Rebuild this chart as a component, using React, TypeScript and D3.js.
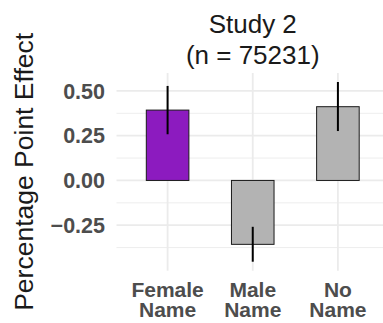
import React from "react";
import * as d3 from "d3";

const categories = ["Female Name", "Male Name", "No Name"];
const means = [0.393, -0.357, 0.412];
const lowers = [0.258, -0.454, 0.276];
const uppers = [0.528, -0.259, 0.55];
const fills = ["#8c1bbf", "#b3b3b3", "#b3b3b3"];
const majorTicks = [-0.25, 0, 0.25, 0.5];
const minorTicks = [-0.375, -0.125, 0.125, 0.375];
const titleLines = ["Study 2", "(n = 75231)"];
const yTitle = "Percentage Point Effect";

const W = 383;
const H = 323;
const panel = { left: 116.5, right: 389, top: 73, bottom: 270.7 };

export default function App() {
  const lo = d3.min(lowers)!;
  const hi = d3.max(uppers)!;
  const pad = (hi - lo) * 0.05;
  const y = d3.scaleLinear().domain([lo - pad, hi + pad]).range([panel.bottom, panel.top]);
  const x = d3.scalePoint<string>().domain(categories).range([panel.left, panel.right]).padding(0.6);
  const bw = x.step() * 0.5;
  const fmt = d3.format(".2f");
  const font = "'Liberation Sans', Arial, sans-serif";
  const cx = (panel.left + panel.right) / 2;

  return (
    <svg width={W} height={H} style={{ position: "absolute", left: 0, top: 0, background: "#fff" }}>
      <g>
        {minorTicks.map((t) => (
          <line key={"mn" + t} x1={panel.left} x2={panel.right} y1={y(t)} y2={y(t)} stroke="#ebebeb" strokeWidth={0.9} />
        ))}
        {majorTicks.map((t) => (
          <line key={"mj" + t} x1={panel.left} x2={panel.right} y1={y(t)} y2={y(t)} stroke="#ebebeb" strokeWidth={1.8} />
        ))}
        {categories.map((c) => (
          <line key={"v" + c} x1={x(c)!} x2={x(c)!} y1={panel.top} y2={panel.bottom} stroke="#ebebeb" strokeWidth={1.8} />
        ))}
      </g>
      <g>
        {categories.map((c, i) => {
          const y0 = y(0);
          const y1 = y(means[i]);
          return (
            <rect
              key={"b" + c}
              x={x(c)! - bw / 2}
              y={Math.min(y0, y1)}
              width={bw}
              height={Math.abs(y1 - y0)}
              fill={fills[i]}
              stroke="#1a1a1a"
              strokeWidth={1}
            />
          );
        })}
        {categories.map((c, i) => (
          <line key={"e" + c} x1={x(c)!} x2={x(c)!} y1={y(lowers[i])} y2={y(uppers[i])} stroke="#000" strokeWidth={2} />
        ))}
      </g>
      <g fontFamily={font}>
        {majorTicks.map((t) => (
          <text key={"yl" + t} x={105} y={y(t)} dy="0.36em" textAnchor="end" fontSize={21.5} fontWeight="bold" fill="#4d4d4d">
            {fmt(t)}
          </text>
        ))}
        {categories.map((c) => {
          const parts = c.split(" ");
          return (
            <text key={"xl" + c} x={x(c)!} textAnchor="middle" fontSize={21} fontWeight="bold" fill="#4d4d4d">
              {parts.map((p, j) => (
                <tspan key={j} x={x(c)!} y={296.5 + j * 20.5}>
                  {p}
                </tspan>
              ))}
            </text>
          );
        })}
        {titleLines.map((l, j) => (
          <text key={"t" + j} x={cx} y={33 + j * 30.5} textAnchor="middle" fontSize={26} fill="#1a1a1a">
            {l}
          </text>
        ))}
        <text
          transform={`translate(33, ${(panel.top + panel.bottom) / 2}) rotate(-90)`}
          textAnchor="middle"
          fontSize={26.5}
          fill="#1a1a1a"
        >
          {yTitle}
        </text>
      </g>
    </svg>
  );
}
